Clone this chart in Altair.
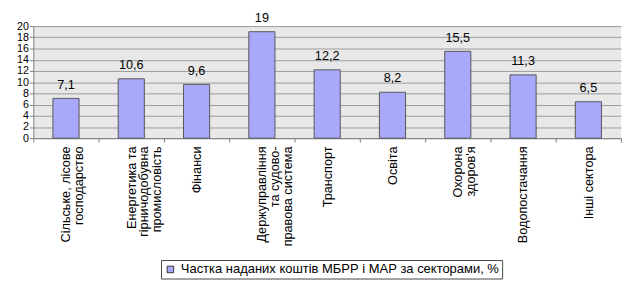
import altair as alt
import pandas as pd

categories = [
    "Сільське, лісове\nгосподарство",
    "Енергетика та\nгірничодобувна\nпромисловість",
    "Фінанси",
    "Держуправління\nта судово-\nправова система",
    "Транспорт",
    "Освіта",
    "Охорона\nздоров'я",
    "Водопостачання",
    "Інші сектора",
]
values = [7.1, 10.6, 9.6, 19, 12.2, 8.2, 15.5, 11.3, 6.5]
value_labels = ["7,1", "10,6", "9,6", "19", "12,2", "8,2", "15,5", "11,3", "6,5"]
series_name = "Частка наданих коштів МБРР і МАР за секторами, %"
y_ticks = [0, 2, 4, 6, 8, 10, 12, 14, 16, 18, 20]

df = pd.DataFrame({"cat": categories, "val": values, "lbl": value_labels, "series": series_name})

FONT = "Liberation Sans"

x = alt.X(
    "cat:N",
    sort=categories,
    scale=alt.Scale(paddingInner=0, paddingOuter=0),
    axis=alt.Axis(
        title=None,
        labelAngle=-90,
        labelAlign="right",
        labelBaseline="middle",
        labelExpr="split(datum.label, '\\n')",
        labelFont=FONT,
        labelFontSize=13,
        labelLineHeight=13,
        labelColor="black",
        labelPadding=4,
        labelLimit=0,
        tickBand="extent",
        tickSize=4,
        tickColor="#808080",
        domainColor="#808080",
    ),
)
y = alt.Y(
    "val:Q",
    scale=alt.Scale(domain=[0, 20], nice=False),
    axis=alt.Axis(
        title=None,
        values=y_ticks,
        grid=True,
        gridColor="#9a9a9a",
        tickSize=4,
        tickColor="#808080",
        domainColor="#808080",
        labelFont=FONT,
        labelFontSize=11,
        labelColor="black",
        labelPadding=1,
        labelOverlap=False,
        labelFlush=False,
    ),
)

bars = alt.Chart(df).mark_bar(
    width=alt.RelativeBandSize(0.4), stroke="#555555", strokeWidth=1
).encode(
    x=x,
    y=y,
    color=alt.Color(
        "series:N",
        scale=alt.Scale(range=["#a9a9fb"]),
        legend=alt.Legend(
            title=None,
            orient="none",
            legendX=131,
            legendY=240,
            labelFont=FONT,
            labelFontSize=13.3,
            labelColor="black",
            labelLimit=0,
            symbolType="square",
            symbolSize=45,
            symbolStrokeColor="#333333",
            symbolStrokeWidth=1,
            strokeColor="#444444",
            padding=3,
        ),
    ),
)

texts = alt.Chart(df).mark_text(
    dy=-14, font=FONT, fontSize=13, color="black"
).encode(x=x, y=y, text="lbl:N")

chart = (
    alt.layer(bars, texts)
    .properties(width=603, height=115, padding={"top": 0, "left": 8, "right": 0, "bottom": 0})
    .configure_view(fill="#e8e8e8", stroke=None)
)

chart.save("out.html", embed_options={"renderer": "svg", "actions": False})
